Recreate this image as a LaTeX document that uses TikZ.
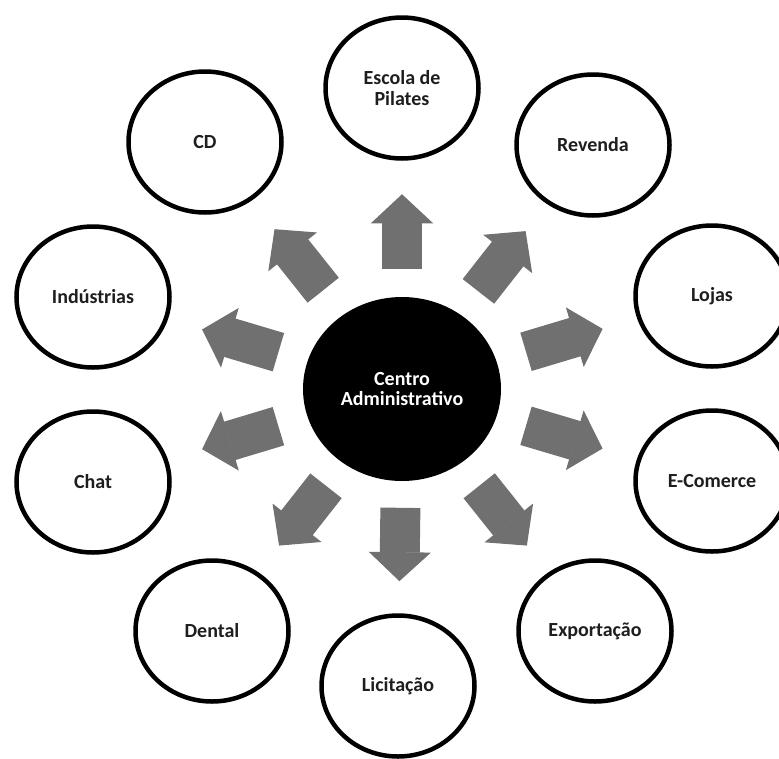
\documentclass[tikz,border=0pt]{standalone}
\usepackage{fontspec}
\setmainfont{Carlito}
\usepackage{tikz}
\usetikzlibrary{arrows.meta,calc,shapes.geometric}
\definecolor{arrgray}{RGB}{112,112,112}
\definecolor{txtgray}{RGB}{30,30,30}

\begin{document}
\begin{tikzpicture}[x=1pt,y=-1pt,
  unit/.style={ellipse,draw=black,line width=4.5pt,fill=white,minimum width=153pt,minimum height=141pt,inner sep=0pt,align=center,text=txtgray,font=\fontsize{20}{20.5}\selectfont\bfseries},
  hub/.style={ellipse,fill=black,minimum width=198pt,minimum height=184pt,inner sep=0pt,align=center,text=white,font=\fontsize{20}{19.5}\selectfont\bfseries},
  arr/.style={-{Triangle[length=29pt,width=62pt,line width=1.2pt]},line width=40pt,draw=arrgray}]
  \useasboundingbox (0,0) rectangle (779,758);
  \node[hub] (ctr) at (402,389) {Centro\\Administrativo};
  \node[unit] (esc) at (402,88) {Escola de\\Pilates};
  \node[unit] (rev) at (593,145) {Revenda};
  \node[unit] (loj) at (712,296) {Lojas};
  \node[unit] (ecom) at (712,481) {E-Comerce};
  \node[unit] (exp) at (595,631) {Exportação};
  \node[unit] (lic) at (398,686) {Licitação};
  \node[unit] (den) at (212,631) {Dental};
  \node[unit] (chat) at (93,482) {Chat};
  \node[unit] (ind) at (93,297) {Indústrias};
  \node[unit] (cd) at (205,142) {CD};
  \draw[arr] ($(ctr)!0.4!(esc)$)--($(ctr)!0.647!(esc)$);
  \draw[arr] ($(ctr)!0.4!(rev)$)--($(ctr)!0.647!(rev)$);
  \draw[arr] ($(ctr)!0.4!(loj)$)--($(ctr)!0.647!(loj)$);
  \draw[arr] ($(ctr)!0.4!(ecom)$)--($(ctr)!0.647!(ecom)$);
  \draw[arr] ($(ctr)!0.4!(exp)$)--($(ctr)!0.647!(exp)$);
  \draw[arr] ($(ctr)!0.4!(lic)$)--($(ctr)!0.647!(lic)$);
  \draw[arr] ($(ctr)!0.4!(den)$)--($(ctr)!0.647!(den)$);
  \draw[arr] ($(ctr)!0.4!(chat)$)--($(ctr)!0.647!(chat)$);
  \draw[arr] ($(ctr)!0.4!(ind)$)--($(ctr)!0.647!(ind)$);
  \draw[arr] ($(ctr)!0.4!(cd)$)--($(ctr)!0.647!(cd)$);
\end{tikzpicture}
\end{document}
